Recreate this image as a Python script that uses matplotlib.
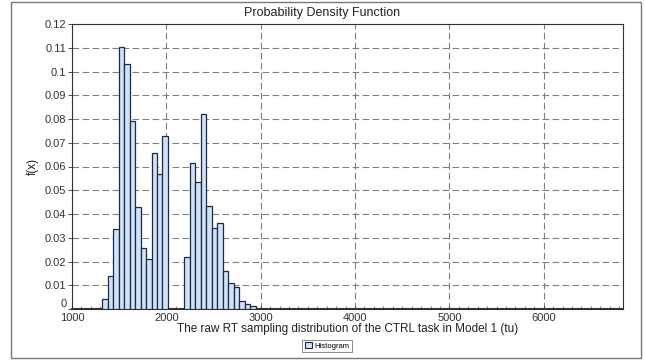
import matplotlib
matplotlib.use("Agg")
import matplotlib.pyplot as plt
from matplotlib.patches import Rectangle, Patch
from matplotlib.ticker import MultipleLocator
import numpy as np

plt.rcParams['font.family'] = ['Liberation Sans', 'DejaVu Sans']

# Histogram data (bin left edges, width 58 tu)
bin_start = 1321
bin_width = 58
density = [0.0044, 0.0137, 0.0337, 0.1105, 0.1030, 0.0793, 0.0430, 0.0257,
           0.0210, 0.0656, 0.0567, 0.0727, 0.0, 0.0, 0.0,
           0.0220, 0.0613, 0.0536, 0.0823, 0.0434, 0.0343, 0.0363, 0.0159,
           0.0111, 0.0093, 0.0033, 0.0021, 0.0013]

title = "Probability Density Function"
xlabel = "The raw RT sampling distribution of the CTRL task in Model 1 (tu)"
ylabel = "f(x)"
legend_label = "Histogram"
xmin, xmax = 1000, 6840
ymin, ymax = 0, 0.12

fig = plt.figure(figsize=(6.45, 3.62), dpi=100)
ax = fig.add_axes([72/645, 1-309/362, (623-72)/645, (309-24)/362])

lefts = [bin_start + i*bin_width for i in range(len(density))]
ax.bar(lefts, density, width=bin_width, align='edge',
       color='#cfe2f7', edgecolor='#1e2a45', linewidth=0.9, zorder=3)

ax.set_xlim(xmin, xmax)
ax.set_ylim(ymin, ymax)
ax.xaxis.set_major_locator(MultipleLocator(1000))
ax.xaxis.set_minor_locator(MultipleLocator(100))
yt = np.round(np.arange(0, 0.1201, 0.01), 2)
ax.set_yticks(yt)
ax.set_yticklabels(['0'] + [('%g' % v) for v in yt[1:]])

ax.grid(True, which='major', linestyle=(0, (6, 3)), color='#808080', linewidth=0.8, zorder=1)
ax.tick_params(axis='both', which='major', labelsize=8, colors='#333333', length=3, width=0.6, pad=1)
ax.tick_params(axis='x', which='minor', direction='in', length=2, width=0.5, colors='#555555')
ax.tick_params(axis='x', which='major', direction='in', length=2, pad=3)
ax.get_yticklabels()[0].set_verticalalignment('bottom')
for s in ax.spines.values():
    s.set_color('#333333')
    s.set_linewidth(0.8)
ax.spines['bottom'].set_linewidth(1.5)

ax.set_xlabel(xlabel, fontsize=8.5, color='#222222', labelpad=0)
ax.set_ylabel(ylabel, fontsize=8.5, color='#222222', labelpad=4)
fig.text(0.5, 1-13/362, title, ha='center', va='center', fontsize=9, color='#222222')

leg = fig.legend(handles=[Patch(facecolor='#cfe2f7', edgecolor='#1e2a45', linewidth=0.8, label=legend_label)],
                 loc='center', bbox_to_anchor=(327/645, 1-346/362), fontsize=5.5,
                 frameon=True, fancybox=False, edgecolor='#555555', handlelength=1.0,
                 handleheight=0.8, handletextpad=0.3, borderpad=0.3)
leg.get_frame().set_linewidth(0.6)

fig.patches.append(Rectangle((11/645, 1-358/362), (641-11)/645, (358-2)/362,
                             transform=fig.transFigure, fill=False,
                             edgecolor='#777777', linewidth=1.0))

fig.savefig('out.png', dpi=100)
